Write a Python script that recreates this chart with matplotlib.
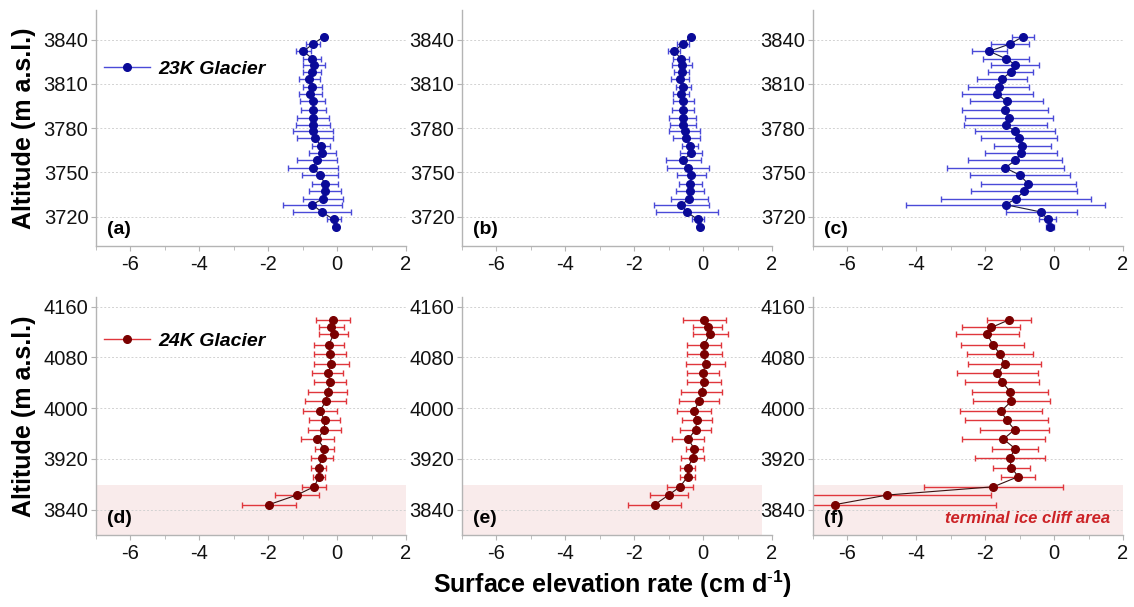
import matplotlib
matplotlib.use("Agg")
import matplotlib.pyplot as plt
from matplotlib.lines import Line2D
from matplotlib.ticker import MultipleLocator

plt.rcParams['font.family'] = ['Liberation Sans', 'DejaVu Sans']
plt.rcParams['mathtext.fontset'] = 'custom'
plt.rcParams['mathtext.rm'] = 'Liberation Sans'
plt.rcParams['mathtext.bf'] = 'Liberation Sans:bold'
plt.rcParams['axes.unicode_minus'] = False

# 23K glacier altitudes (m a.s.l.)
alt_23k = [3842, 3837, 3832, 3827, 3823, 3818, 3813, 3808, 3803, 3798, 3792, 3787, 3782, 3778,
           3773, 3768, 3763, 3758, 3753, 3748, 3742, 3737, 3732, 3728, 3723, 3718, 3713]
rate_a = [-0.38, -0.70, -0.98, -0.72, -0.67, -0.72, -0.81, -0.72, -0.78, -0.71, -0.69, -0.70, -0.70, -0.69,
          -0.64, -0.47, -0.43, -0.59, -0.70, -0.49, -0.35, -0.35, -0.42, -0.72, -0.44, -0.10, -0.04]
err_a = [0.03, 0.20, 0.22, 0.26, 0.33, 0.26, 0.31, 0.28, 0.33, 0.37, 0.36, 0.47, 0.50, 0.58,
         0.53, 0.27, 0.40, 0.58, 0.73, 0.52, 0.39, 0.47, 0.58, 0.86, 0.85, 0.20, 0.04]
rate_b = [-0.34, -0.59, -0.84, -0.64, -0.60, -0.62, -0.67, -0.58, -0.63, -0.57, -0.58, -0.59, -0.59, -0.54,
          -0.49, -0.38, -0.36, -0.58, -0.43, -0.34, -0.37, -0.38, -0.40, -0.63, -0.48, -0.15, -0.09]
err_b = [0.03, 0.17, 0.17, 0.22, 0.29, 0.22, 0.26, 0.22, 0.23, 0.30, 0.31, 0.39, 0.38, 0.46,
         0.39, 0.22, 0.32, 0.51, 0.61, 0.42, 0.34, 0.41, 0.53, 0.80, 0.90, 0.18, 0.04]
rate_c = [-0.90, -1.28, -1.88, -1.40, -1.13, -1.26, -1.52, -1.61, -1.65, -1.38, -1.42, -1.32, -1.41, -1.14,
          -1.02, -0.92, -0.96, -1.13, -1.42, -0.99, -0.75, -0.87, -1.11, -1.41, -0.37, -0.19, -0.12]
err_c = [0.31, 0.56, 0.51, 0.67, 0.70, 0.65, 0.72, 0.88, 1.03, 1.07, 1.25, 1.28, 1.20, 1.16,
         1.10, 0.83, 1.05, 1.37, 1.70, 1.45, 1.38, 1.53, 2.17, 2.88, 1.02, 0.24, 0.12]

# 24K glacier altitudes (m a.s.l.)
alt_24k = [4139, 4127, 4116, 4100, 4085, 4069, 4055, 4041, 4026, 4011, 3995,
           3981, 3966, 3951, 3936, 3921, 3906, 3892, 3876, 3863, 3848]
rate_d = [-0.11, -0.17, -0.10, -0.24, -0.20, -0.17, -0.27, -0.20, -0.27, -0.33, -0.50,
          -0.36, -0.37, -0.57, -0.37, -0.44, -0.54, -0.52, -0.67, -1.17, -1.97]
err_d = [0.49, 0.37, 0.42, 0.44, 0.46, 0.51, 0.45, 0.47, 0.57, 0.60, 0.49,
         0.45, 0.47, 0.47, 0.27, 0.31, 0.21, 0.17, 0.34, 0.64, 0.79]
rate_e = [0.04, 0.13, 0.21, 0.02, 0.04, 0.07, -0.01, 0.03, -0.04, -0.12, -0.26,
          -0.18, -0.22, -0.43, -0.26, -0.30, -0.45, -0.45, -0.67, -1.00, -1.40]
err_e = [0.63, 0.43, 0.50, 0.50, 0.51, 0.56, 0.47, 0.50, 0.59, 0.59, 0.49,
         0.44, 0.46, 0.47, 0.25, 0.33, 0.22, 0.22, 0.38, 0.55, 0.77]
rate_f = [-1.31, -1.82, -1.94, -1.78, -1.57, -1.44, -1.65, -1.51, -1.28, -1.24, -1.54,
          -1.38, -1.15, -1.47, -1.13, -1.29, -1.24, -1.04, -1.76, -4.84, -6.35]
err_f = [0.65, 0.84, 0.91, 0.91, 0.96, 1.06, 1.17, 1.07, 1.11, 1.12, 1.19,
         1.21, 1.00, 1.20, 0.66, 1.02, 0.54, 0.49, 2.01, 3.02, 4.65]

panel_labels = ['(a)', '(b)', '(c)', '(d)', '(e)', '(f)']
glacier_names = ['23K Glacier', '24K Glacier']
ticks_23k = [3720, 3750, 3780, 3810, 3840]
ticks_24k = [3840, 3920, 4000, 4080, 4160]
cliff_top = 3879
cliff_right = [2.0, 1.7, 2.0]

BLUE = ('#0a0a98', '#4a4ad8')
RED = ('#7a0000', '#e0363c')

W, H = 1134, 607
fig = plt.figure(figsize=(W / 100, H / 100), dpi=100)

col_left = [96, 462, 813]
col_width = 310
rows = [(10, 246), (297, 535)]


def make_ax(col, row):
    top, bottom = rows[row]
    return fig.add_axes([col_left[col] / W, 1 - bottom / H, col_width / W, (bottom - top) / H])


def style_ax(ax, yticks, ylim):
    ax.set_xlim(-7, 2)
    ax.set_ylim(*ylim)
    ax.set_xticks([-6, -4, -2, 0, 2])
    ax.xaxis.set_minor_locator(MultipleLocator(1))
    ax.set_yticks(yticks)
    for side in ['top', 'right']:
        ax.spines[side].set_visible(False)
    for side in ['left', 'bottom']:
        ax.spines[side].set_color('#b4b4b4')
        ax.spines[side].set_linewidth(1.0)
    ax.tick_params(axis='both', which='both', colors='#b4b4b4', labelcolor='#111111',
                   labelsize=14.5, direction='out')
    ax.tick_params(axis='x', which='major', length=3.5, pad=3)
    ax.tick_params(axis='x', which='minor', length=3)
    ax.tick_params(axis='y', length=3.5, pad=2)
    ax.grid(axis='y', color='#d2d2d2', linestyle=(0, (2, 2)), linewidth=0.7)
    ax.set_axisbelow(True)


def draw(ax, rate, err, alt, colors):
    mc, ec = colors
    ax.errorbar(rate, alt, xerr=err, fmt='none', ecolor=ec, elinewidth=1.0,
                capsize=2, capthick=1.0, zorder=2)
    ax.plot(rate, alt, color='#1a1a40' if colors == BLUE else '#3a1010', lw=0.8, zorder=3)
    ax.plot(rate, alt, 'o', color=mc, markersize=5.5, zorder=4)


top_data = [(rate_a, err_a), (rate_b, err_b), (rate_c, err_c)]
bot_data = [(rate_d, err_d), (rate_e, err_e), (rate_f, err_f)]

for i, (r, e) in enumerate(top_data):
    ax = make_ax(i, 0)
    style_ax(ax, ticks_23k, (3700, 3860))
    draw(ax, r, e, alt_23k, BLUE)
    ax.text(0.035, 0.068, panel_labels[i], transform=ax.transAxes, fontsize=14,
            fontweight='bold', ha='left', va='center')
    if i == 0:
        h = Line2D([], [], color=BLUE[1], lw=1.0, marker='o', markersize=5.5,
                   markerfacecolor=BLUE[0], markeredgecolor=BLUE[0])
        ax.legend([h], [glacier_names[0]], loc='center left', bbox_to_anchor=(0.0, 0.75),
                  frameon=False, handlelength=2.4, handletextpad=0.4, borderaxespad=0,
                  prop={'weight': 'bold', 'style': 'italic', 'size': 14})

for i, (r, e) in enumerate(bot_data):
    ax = make_ax(i, 1)
    style_ax(ax, ticks_24k, (3800, 4175))
    ax.axhspan(3800, cliff_top, xmin=0, xmax=(cliff_right[i] + 7) / 9,
               facecolor='#f9ebeb', edgecolor='none', zorder=0)
    draw(ax, r, e, alt_24k, RED)
    ax.text(0.035, 0.068, panel_labels[3 + i], transform=ax.transAxes, fontsize=14,
            fontweight='bold', ha='left', va='center')
    if i == 0:
        h = Line2D([], [], color=RED[1], lw=1.0, marker='o', markersize=5.5,
                   markerfacecolor=RED[0], markeredgecolor=RED[0])
        ax.legend([h], [glacier_names[1]], loc='center left', bbox_to_anchor=(0.0, 0.815),
                  frameon=False, handlelength=2.4, handletextpad=0.4, borderaxespad=0,
                  prop={'weight': 'bold', 'style': 'italic', 'size': 14})
    if i == 2:
        ax.text(0.96, 0.07, 'terminal ice cliff area', transform=ax.transAxes, fontsize=12,
                fontweight='bold', style='italic', color='#cc2226', ha='right', va='center')

fig.text(24 / W, 1 - 128 / H, 'Altitude (m a.s.l.)', rotation=90, fontsize=18,
         fontweight='bold', ha='center', va='center')
fig.text(24 / W, 1 - 416 / H, 'Altitude (m a.s.l.)', rotation=90, fontsize=18,
         fontweight='bold', ha='center', va='center')
fig.text(613 / W, 1 - 584 / H, r'Surface elevation rate (cm d$^{\mathbf{\text{-}1}}$)', fontsize=18,
         fontweight='bold', ha='center', va='center')

fig.savefig('out.png', dpi=100, facecolor='white')
